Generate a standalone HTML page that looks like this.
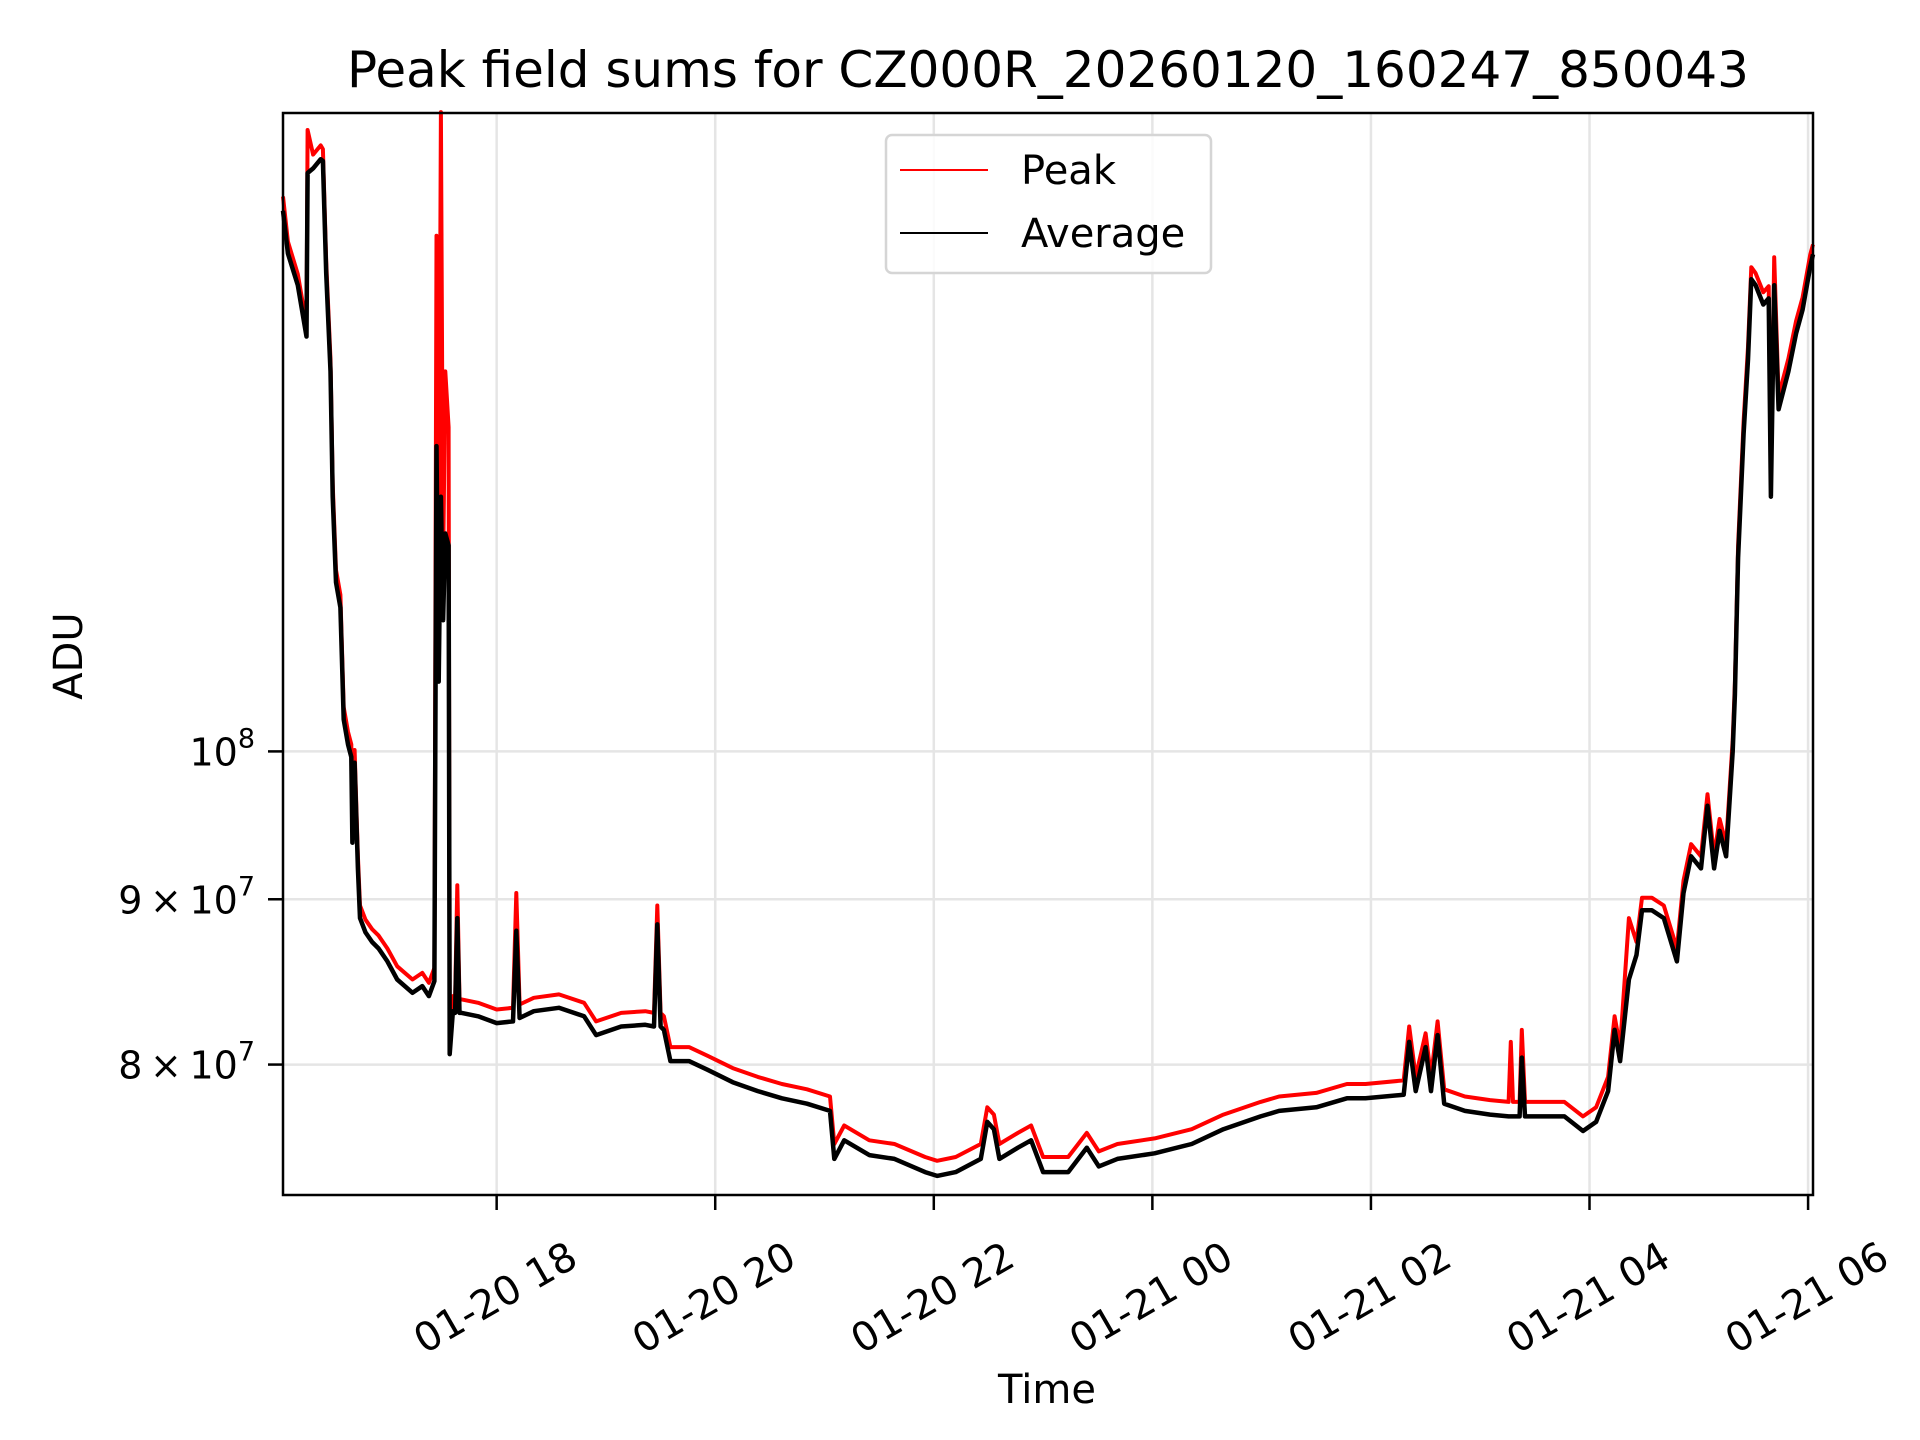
<!DOCTYPE html>
<html><head><meta charset="utf-8"><style>
html,body{margin:0;padding:0;background:#fff;}
svg{display:block;font-family:"DejaVu Sans","Liberation Sans",sans-serif;}
</style></head><body>
<svg id="chart" width="1920" height="1440" viewBox="0 0 1920 1440">
<rect width="1920" height="1440" fill="#fff"/>
<g id="grid"></g>
<g id="series"></g>
<g id="axes"></g>
</svg>
<script>
// hours since 2026-01-20 16:00
const times = [0.045,0.09,0.18,0.26,0.27,0.32,0.39,0.41,0.44,0.48,0.50,0.53,0.57,0.60,0.64,0.67,0.68,0.70,0.73,0.75,0.80,0.86,0.92,1.0,1.09,1.23,1.32,1.38,1.43,1.45,1.47,1.49,1.51,1.53,1.56,1.57,1.60,1.62,1.64,1.66,1.68,1.83,2.0,2.15,2.18,2.21,2.34,2.57,2.80,2.91,3.14,3.36,3.44,3.47,3.50,3.53,3.59,3.76,3.93,4.16,4.39,4.61,4.84,5.05,5.09,5.18,5.41,5.64,5.92,6.03,6.20,6.43,6.49,6.55,6.60,6.77,6.89,7.0,7.23,7.40,7.51,7.68,8.02,8.36,8.65,8.99,9.16,9.50,9.78,9.95,10.30,10.35,10.41,10.5,10.55,10.61,10.67,10.86,11.09,11.26,11.28,11.30,11.36,11.38,11.41,11.43,11.77,11.94,12.06,12.17,12.23,12.28,12.36,12.43,12.48,12.57,12.68,12.80,12.86,12.93,13.02,13.08,13.14,13.19,13.25,13.31,13.33,13.36,13.41,13.45,13.48,13.52,13.59,13.64,13.66,13.69,13.73,13.82,13.89,13.95,14.02,14.045];
// values in units of 1e7 ADU
const avgValues = [14.70,14.26,13.94,13.44,15.10,15.15,15.25,15.23,14.06,13.11,11.99,11.28,11.08,10.23,10.05,9.96,9.37,9.92,9.20,8.88,8.79,8.73,8.69,8.61,8.50,8.42,8.46,8.40,8.49,12.43,10.51,11.99,10.98,11.68,11.58,8.06,8.31,8.30,8.88,8.30,8.30,8.28,8.24,8.25,8.80,8.27,8.31,8.33,8.28,8.17,8.22,8.23,8.22,8.84,8.22,8.20,8.02,8.02,7.97,7.90,7.85,7.81,7.78,7.74,7.48,7.58,7.50,7.48,7.41,7.39,7.41,7.48,7.68,7.64,7.48,7.54,7.58,7.41,7.41,7.54,7.44,7.48,7.51,7.56,7.64,7.71,7.74,7.76,7.81,7.81,7.83,8.13,7.85,8.10,7.85,8.17,7.78,7.74,7.72,7.71,7.71,7.71,7.71,8.04,7.71,7.71,7.71,7.63,7.68,7.85,8.20,8.02,8.50,8.65,8.93,8.93,8.88,8.61,9.04,9.28,9.20,9.62,9.20,9.45,9.28,10.0,10.41,11.48,12.54,13.22,14.00,13.94,13.75,13.81,11.99,13.94,12.76,13.11,13.47,13.70,14.13,14.25];
const peakValues = [14.85,14.38,14.05,13.55,15.57,15.30,15.40,15.36,14.18,13.22,12.10,11.38,11.18,10.32,10.14,10.05,9.45,10.01,9.28,8.96,8.87,8.81,8.77,8.69,8.58,8.50,8.54,8.48,8.57,14.44,11.0,15.77,11.4,13.11,12.60,8.14,8.40,8.38,9.09,8.38,8.38,8.36,8.32,8.33,9.04,8.35,8.39,8.41,8.36,8.25,8.30,8.31,8.30,8.96,8.30,8.28,8.10,8.10,8.05,7.98,7.93,7.89,7.86,7.82,7.56,7.66,7.58,7.56,7.49,7.47,7.49,7.56,7.76,7.72,7.56,7.62,7.66,7.49,7.49,7.62,7.52,7.56,7.59,7.64,7.72,7.79,7.82,7.84,7.89,7.89,7.91,8.22,7.93,8.18,7.93,8.25,7.86,7.82,7.80,7.79,8.13,7.79,7.79,8.20,7.79,7.79,7.79,7.71,7.76,7.93,8.28,8.10,8.88,8.73,9.01,9.01,8.96,8.69,9.12,9.36,9.28,9.70,9.28,9.53,9.36,10.08,10.50,11.58,12.65,13.34,14.12,14.06,13.87,13.93,12.10,14.22,12.88,13.23,13.59,13.82,14.25,14.35];
const xTickHours = [2,4,6,8,10,12,14];
const xTickLabels = ["01-20 18","01-20 20","01-20 22","01-21 00","01-21 02","01-21 04","01-21 06"];
const yTickValues = [10,9,8];

const L=283,R=1813,T=113,B=1195;
const X0=0.045,X1=14.045;
const YMIN=Math.log10(7.29),YMAX=Math.log10(15.76);
const NS="http://www.w3.org/2000/svg";
function xs(h){return L+(h-X0)/(X1-X0)*(R-L);}
function ys(v){return B-(Math.log10(v)-YMIN)/(YMAX-YMIN)*(B-T);}
function mk(tag,attrs,parent){const e=document.createElementNS(NS,tag);for(const k in attrs)e.setAttribute(k,attrs[k]);parent.appendChild(e);return e;}
const grid=document.getElementById('grid'),ser=document.getElementById('series'),ax=document.getElementById('axes');

xTickHours.forEach((h,i)=>{
  const x=xs(h);
  const g=mk('line',{x1:x,x2:x,y1:T,y2:B,stroke:'#e5e5e5','stroke-width':2.5},grid);
  
  
  const t=mk('line',{x1:x,x2:x,y1:B,y2:B+15,stroke:'#000','stroke-width':2.5},ax);
  
  
  const lab=mk('text',{x:x,y:1300,'font-size':40,'text-anchor':'middle','dominant-baseline':'middle',transform:`rotate(-30 ${x} 1300)`},ax);
  lab.textContent=xTickLabels[i];
  
  
});
yTickValues.forEach(v=>{
  const y=ys(v);
  const g=mk('line',{x1:L,x2:R,y1:y,y2:y,stroke:'#e5e5e5','stroke-width':2.5},grid);
  
  
  const t=mk('line',{x1:L-15,x2:L,y1:y,y2:y,stroke:'#000','stroke-width':2.5},ax);
  
  
  const lab=mk('text',{x:L-28,y:y+14,'font-size':38,'text-anchor':'end'},ax);
  
  
  if(v===10){lab.innerHTML='10<tspan dy="-18" font-size="27">8</tspan>';}
  else{lab.innerHTML=v+'\u2009×\u200910<tspan dy="-18" font-size="27">7</tspan>';}
});
function path(vals,color,w,name){
  let d='';times.forEach((h,i)=>{d+=(i?'L':'M')+xs(h).toFixed(1)+','+ys(vals[i]).toFixed(1);});
  const p=mk('path',{d:d,fill:'none',stroke:color,'stroke-width':w,'stroke-linejoin':'round'},ser);
  
  
}
path(peakValues,'#ff0000',4,'peak-line');
path(avgValues,'#000000',4.5,'average-line');
const cp=mk('rect',{x:L,y:T,width:R-L,height:B-T,fill:'none',stroke:'#000','stroke-width':2.5},ax);


</script>
<svg style="position:absolute;left:0;top:0" width="1920" height="1440">
<text x="1048" y="87" font-size="50" text-anchor="middle" font-family="DejaVu Sans, Liberation Sans, sans-serif">Peak field sums for CZ000R_20260120_160247_850043</text>
<text x="1047" y="1403" font-size="40" text-anchor="middle" font-family="DejaVu Sans, Liberation Sans, sans-serif">Time</text>
<text x="82" y="656" font-size="40" text-anchor="middle" transform="rotate(-90 82 656)" font-family="DejaVu Sans, Liberation Sans, sans-serif">ADU</text>
<g>
<rect x="886" y="135" width="325" height="138" rx="6" fill="#fff" fill-opacity="0.85" stroke="#d5d5d5" stroke-width="2.5"/>
<line x1="900" y1="170" x2="988" y2="170" stroke="#ff0000" stroke-width="2"/>
<text x="1021" y="184" font-size="40" font-family="DejaVu Sans, Liberation Sans, sans-serif">Peak</text>
<line x1="900" y1="233" x2="988" y2="233" stroke="#000" stroke-width="2"/>
<text x="1021" y="247" font-size="40" font-family="DejaVu Sans, Liberation Sans, sans-serif">Average</text>
</g>
</svg>
</body></html>
